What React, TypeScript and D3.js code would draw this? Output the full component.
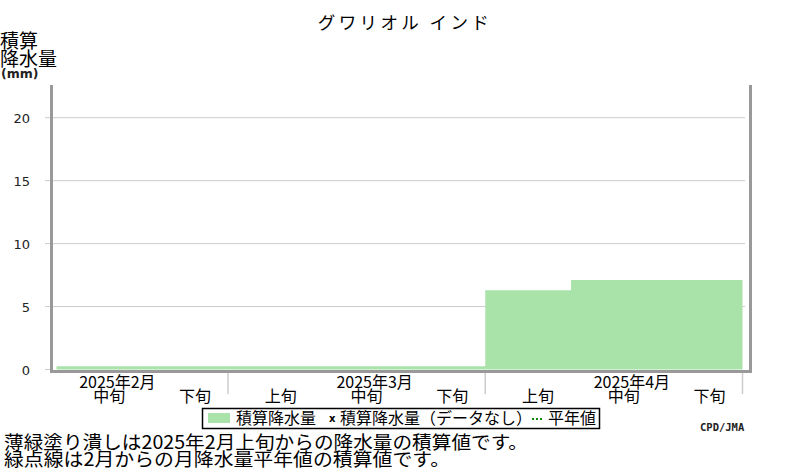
import { FC, useRef, useEffect } from 'react';
import * as d3 from 'd3';

// dekads shown on the x axis (Feb mid .. Apr late)
const dekadLabels = ['中旬', '下旬', '上旬', '中旬', '下旬', '上旬', '中旬', '下旬'];
// accumulated precipitation (mm) per dekad
const accumValues = [0.25, 0.25, 0.25, 0.25, 0.25, 6.3, 7.1, 7.1];
// month labels and the dekad index where each month's middle dekad sits
const monthLabels = ['2025年2月', '2025年3月', '2025年4月'];
const monthMidIndex = [0, 3, 6];
// dekad index of month boundaries
const monthBounds = [2, 5, 8];
const yTicks = [0, 5, 10, 15, 20];

const JP = '"Noto Sans CJK JP", "Noto Sans CJK SC", sans-serif';

const Chart: FC = () => {
  const svgRef = useRef<SVGSVGElement>(null);

  useEffect(() => {
    const svg = d3.select(svgRef.current);
    svg.selectAll('*').remove();

    const plot = { left: 50, right: 750, top: 85, bottom: 370 };

    const x = d3.scaleLinear().domain([0, 8]).range([56.5, 742.5]);
    const y = d3.scaleLinear().domain([0, 22.6]).range([369.5, 85]);

    // title
    svg.append('text')
      .attr('x', 405).attr('y', 29)
      .attr('text-anchor', 'middle')
      .attr('font-family', JP).attr('font-size', 17.5)
      .attr('letter-spacing', 3.4)
      .text('グワリオル インド');

    // y axis title
    const yt = svg.append('g').attr('font-family', JP).attr('font-size', 19);
    yt.append('text').attr('x', 0).attr('y', 48).text('積算');
    yt.append('text').attr('x', 0).attr('y', 66).text('降水量');
    svg.append('text')
      .attr('x', 1).attr('y', 78)
      .attr('font-family', 'DejaVu Sans').attr('font-weight', 'bold').attr('font-size', 12.5)
      .attr('fill', '#222')
      .text('(mm)');

    // gridlines + y ticks
    const grid = svg.append('g');
    yTicks.forEach(t => {
      grid.append('line')
        .attr('x1', 45).attr('x2', t > 0 ? 745 : 50)
        .attr('y1', y(t)).attr('y2', y(t))
        .attr('stroke', '#cccccc').attr('stroke-width', 1);
      grid.append('text')
        .attr('x', 30).attr('y', y(t) + 5)
        .attr('text-anchor', 'end')
        .attr('font-family', 'DejaVu Sans').attr('font-size', 13)
        .attr('fill', '#222')
        .text(t);
    });

    // accumulated precipitation as a step area over dekads
    const pts: [number, number][] = accumValues.map((v, i) => [i, v]);
    pts.push([accumValues.length, accumValues[accumValues.length - 1]]);
    const area = d3.area<[number, number]>()
      .x(d => x(d[0]))
      .y0(y(0))
      .y1(d => y(d[1]))
      .curve(d3.curveStepAfter);
    svg.append('path')
      .datum(pts)
      .attr('d', area)
      .attr('fill', '#aae3aa');

    // frame: left, right, bottom in gray
    const frame = svg.append('g').attr('stroke', '#999999').attr('stroke-width', 3);
    frame.append('line').attr('x1', plot.left + 1.5).attr('x2', plot.left + 1.5)
      .attr('y1', plot.top).attr('y2', plot.bottom + 3);
    frame.append('line').attr('x1', plot.right + 0.5).attr('x2', plot.right + 0.5)
      .attr('y1', plot.top).attr('y2', plot.bottom + 3);
    frame.append('line').attr('x1', plot.left).attr('x2', plot.right + 2)
      .attr('y1', plot.bottom + 1.5).attr('y2', plot.bottom + 1.5);

    // month boundary ticks
    svg.append('g')
      .selectAll('line')
      .data(monthBounds)
      .join('line')
      .attr('x1', d => x(d)).attr('x2', d => x(d))
      .attr('y1', 373).attr('y2', 394)
      .attr('stroke', '#cccccc').attr('stroke-width', 1.5);

    // month labels
    svg.append('g')
      .selectAll('text')
      .data(monthLabels)
      .join('text')
      .attr('x', (_, i) => x(monthMidIndex[i] + 0.5) + 18)
      .attr('y', 388)
      .attr('text-anchor', 'middle')
      .attr('font-family', JP).attr('font-size', 16)
      .text(d => d);

    // dekad labels
    svg.append('g')
      .selectAll('text')
      .data(dekadLabels)
      .join('text')
      .attr('x', (_, i) => x(i + 0.5) + 10)
      .attr('y', 402)
      .attr('text-anchor', 'middle')
      .attr('font-family', JP).attr('font-size', 16)
      .text(d => d);

    // legend
    const lg = svg.append('g');
    lg.append('rect')
      .attr('x', 202.5).attr('y', 408.5).attr('width', 397).attr('height', 20)
      .attr('fill', 'white').attr('stroke', 'black').attr('stroke-width', 1.5);
    lg.append('rect')
      .attr('x', 208).attr('y', 413).attr('width', 22).attr('height', 10)
      .attr('fill', '#aae3aa');
    lg.append('text').attr('x', 236).attr('y', 424)
      .attr('font-family', JP).attr('font-size', 16).text('積算降水量');
    lg.append('text').attr('x', 329).attr('y', 422)
      .attr('font-family', 'DejaVu Sans').attr('font-weight', 'bold').attr('font-size', 10).text('x');
    lg.append('text').attr('x', 340).attr('y', 424)
      .attr('font-family', JP).attr('font-size', 16).text('積算降水量（データなし）');
    lg.append('line')
      .attr('x1', 532).attr('x2', 542).attr('y1', 419).attr('y2', 419)
      .attr('stroke', '#108a10').attr('stroke-width', 2).attr('stroke-dasharray', '2,2');
    lg.append('text').attr('x', 548).attr('y', 424)
      .attr('font-family', JP).attr('font-size', 16).text('平年値');

    // credit
    svg.append('text')
      .attr('x', 700).attr('y', 431)
      .attr('font-family', 'DejaVu Sans Mono').attr('font-weight', 'bold').attr('font-size', 10.5)
      .attr('fill', '#222')
      .text('CPD/JMA');

    // notes (horizontally stretched like the reference's wide glyphs)
    const notes = svg.append('g').attr('font-family', JP).attr('font-size', 18.5);
    notes.append('text').attr('x', 4).attr('y', 449)
      .attr('textLength', 524).attr('lengthAdjust', 'spacingAndGlyphs')
      .text('薄緑塗り潰しは2025年2月上旬からの降水量の積算値です。');
    notes.append('text').attr('x', 4).attr('y', 466)
      .attr('textLength', 446).attr('lengthAdjust', 'spacingAndGlyphs')
      .text('緑点線は2月からの月降水量平年値の積算値です。');
  }, []);

  return (
    <svg ref={svgRef} width={800} height={470}
      style={{ position: 'absolute', left: 0, top: 0, background: 'white' }} />
  );
};

export default function App() {
  return <Chart />;
}
